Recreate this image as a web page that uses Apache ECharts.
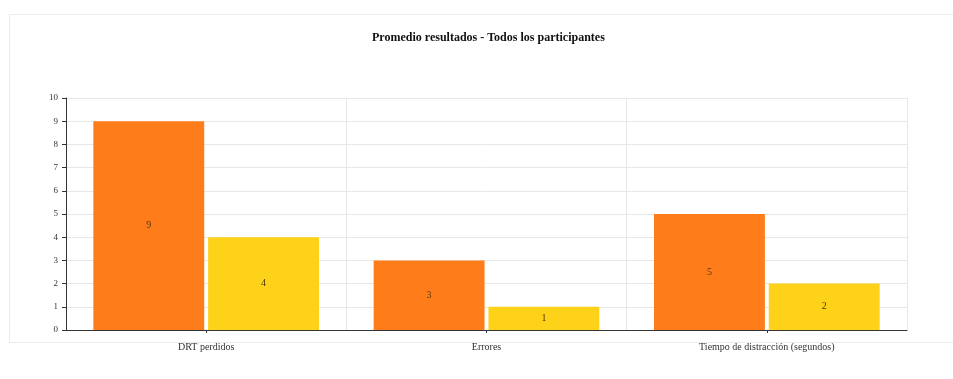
<!DOCTYPE html>
<html>
<head>
<meta charset="utf-8">
<script src="https://cdn.jsdelivr.net/npm/echarts@6/dist/echarts.min.js"></script>
<style>html,body{margin:0;padding:0;background:#fff;}#c{width:953px;height:379px;}</style>
</head>
<body>
<div id="c"></div>
<script>
var categories = ['DRT perdidos', 'Errores', 'Tiempo de distracción (segundos)'];
var seriesA = [9, 3, 5];
var seriesB = [4, 1, 2];
var yTicks = [0, 1, 2, 3, 4, 5, 6, 7, 8, 9, 10];

var font = '"Liberation Serif", "DejaVu Serif", serif';
var chart = echarts.init(document.getElementById('c'), null, {renderer: 'canvas'});
chart.setOption({
  backgroundColor: '#fff',
  animation: false,
  graphic: [{
    type: 'rect', z: -10, silent: true,
    shape: {x: 9.5, y: 14.5, width: 960, height: 328},
    style: {fill: '#fff', stroke: '#ebebeb', lineWidth: 1}
  }],
  title: {
    text: 'Promedio resultados - Todos los participantes',
    left: 367, top: 27,
    textStyle: {fontFamily: font, fontSize: 12, fontWeight: 'bold', color: '#111'}
  },
  grid: {left: 66, right: 46, top: 98, bottom: 49, containLabel: false},
  xAxis: {
    type: 'category', data: categories,
    axisLine: {lineStyle: {color: '#333', width: 1}},
    axisTick: {show: true, alignWithLabel: true, length: 3, lineStyle: {color: '#333'}},
    axisLabel: {fontFamily: font, fontSize: 10, color: '#333', margin: 12},
    splitLine: {show: true, lineStyle: {color: '#e6e6e6'}}
  },
  yAxis: {
    type: 'value', min: 0, max: 10, interval: 1,
    axisLine: {show: true, lineStyle: {color: '#333', width: 1}},
    axisTick: {show: true, length: 4, lineStyle: {color: '#333'}},
    axisLabel: {fontFamily: font, fontSize: 9, color: '#333', margin: 8,
      formatter: function (v) { return yTicks.indexOf(v) >= 0 ? String(v) : ''; }},
    splitLine: {show: true, lineStyle: {color: '#e8e8e8'}}
  },
  series: [{
    type: 'bar', data: seriesA, barGap: '3.5%', barCategoryGap: '19.5%',
    itemStyle: {color: '#FF7C1A'},
    label: {show: true, position: 'inside', fontFamily: font, fontSize: 10, color: '#5a3a10'}
  }, {
    type: 'bar', data: seriesB,
    itemStyle: {color: '#FFD21A'},
    label: {show: true, position: 'inside', fontFamily: font, fontSize: 10, color: '#4a3a08'}
  }]
});
</script>
</body>
</html>
